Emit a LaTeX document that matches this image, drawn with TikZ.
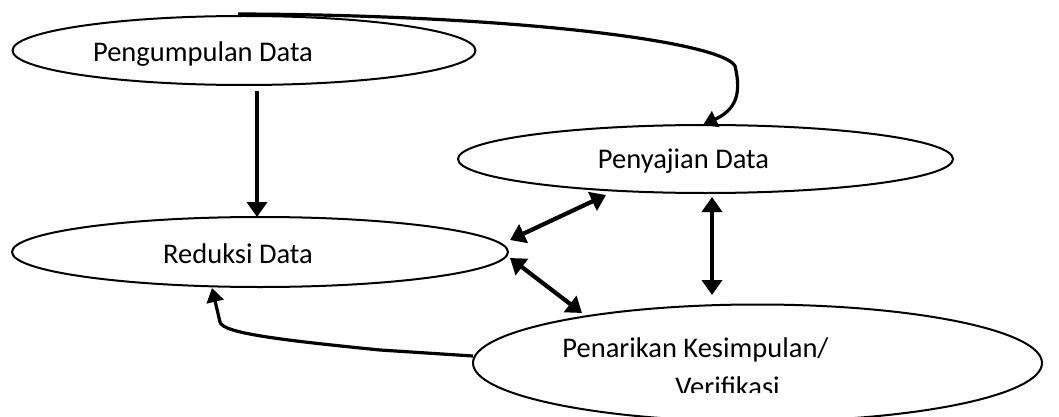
\documentclass[tikz,border=0pt]{standalone}
\usepackage{fontspec}
\setmainfont{Carlito}
\usetikzlibrary{shapes.geometric,arrows.meta}
\tikzset{
  oval/.style={ellipse,draw=black,line width=2pt,inner sep=0pt,fill=white},
  lbl/.style={anchor=base,inner sep=0pt,font=\fontsize{28.5}{32}\selectfont},
  arr/.style={line width=4.2pt,-{Triangle[length=15pt,width=20pt]}},
  dbl/.style={line width=4.2pt,{Triangle[length=15pt,width=20pt]}-{Triangle[length=15pt,width=20pt]}},
  crv/.style={line width=3.2pt,-{Triangle[length=14pt,width=17pt]},line join=round},
}
\begin{document}
\begin{tikzpicture}[x=1pt,y=-1pt]
\useasboundingbox (0,0) rectangle (1059,417);
\clip (0,0) rectangle (1059,417);
% ovals
\node[oval,minimum width=463pt,minimum height=69pt] (e1) at (244,50.5) {};
\node[oval,minimum width=495pt,minimum height=68pt] (e2) at (705.5,159) {};
\node[oval,minimum width=496pt,minimum height=70pt] (e3) at (260,252) {};
\node[oval,minimum width=569pt,minimum height=117pt] (e4) at (757.5,363) {};
% texts
\node[lbl] (t1) at (203,62) {Pengumpulan Data};
\node[lbl] (t2) at (683.5,168) {Penyajian Data};
\node[lbl] (t3) at (238,263) {Reduksi Data};
\node[lbl] (t4) at (695.5,357) {Penarikan Kesimpulan/};
\begin{scope}
\clip (0,0) rectangle (1059,392.5);
\node[lbl] (t5) at (727.5,396) {Verifikasi};
\end{scope}
% connector endpoints
\coordinate (a1s) at (257,91);
\coordinate (a1e) at (257,217);
\coordinate (b1) at (510,240);
\coordinate (b2) at (606,195);
\coordinate (c1) at (510,258);
\coordinate (c2) at (582,313);
\coordinate (d1) at (712,197);
\coordinate (d2) at (712,295);
\coordinate (tops) at (238,14);
\coordinate (tope) at (703,125);
\coordinate (bots) at (473,356);
\coordinate (bote) at (212,288);
% connectors
\draw[arr] (a1s) -- (a1e);
\draw[dbl] (b1) -- (b2);
\draw[dbl] (c1) -- (c2);
\draw[dbl] (d1) -- (d2);
\draw[crv] (tops) .. controls (520,15) and (722,42) .. (735,66)
  .. controls (742,95) and (735,110) .. (tope);
\draw[crv] (bots) -- (380,350) .. controls (280,340) and (222,333) .. (220,322) -- (bote);
\end{tikzpicture}
\end{document}
